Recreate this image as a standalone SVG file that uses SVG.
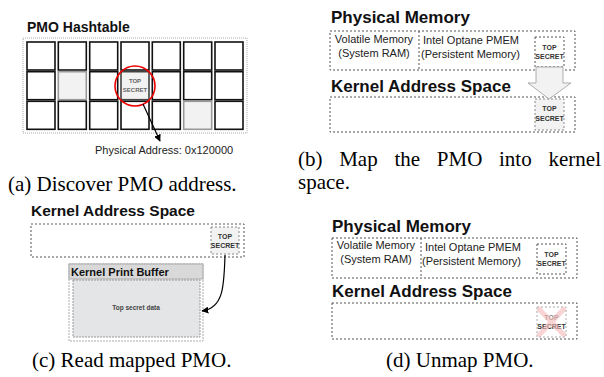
<svg xmlns="http://www.w3.org/2000/svg" width="604" height="377" viewBox="0 0 604 377">
<style>
.dot{fill:none;stroke:#555;stroke-width:1;stroke-dasharray:2 2}
.dotf{fill:#f2f2f2;stroke:#888;stroke-width:1;stroke-dasharray:2 2}
.cell{fill:#fff;stroke:#111;stroke-width:1.6}
.cellg{fill:#f2f2f2;stroke:#999;stroke-width:1.6}
.ttl{font-family:"Liberation Sans",Arial,sans-serif;font-weight:bold;fill:#111}
.ts{font-family:"Liberation Sans",Arial,sans-serif;font-weight:bold;font-size:7px;fill:#333;text-anchor:middle}
.mem{font-family:"Liberation Sans",Arial,sans-serif;font-size:11px;fill:#222}
.cap{font-family:"Liberation Serif","Times New Roman",serif;font-size:21px;fill:#000}
.conn{fill:none;stroke:#000;stroke-width:1.2}
</style>
<defs>
<marker id="ah" viewBox="0 0 10 10" refX="9" refY="5" markerWidth="7" markerHeight="7" orient="auto" markerUnits="userSpaceOnUse">
<path d="M0,0 L10,5 L0,10 z" fill="#000"/>
</marker>
</defs>

<!-- (a) PMO Hashtable -->
<g id="panel-a">
<text class="ttl" x="27" y="32" font-size="14">PMO Hashtable</text>
<rect x="23" y="38" width="224" height="95" fill="none" stroke="#aaa" stroke-width="1" stroke-dasharray="1 1"/>
<g id="hashtable-cells">
<rect class="cell" x="27" y="42" width="28" height="28"/>
<rect class="cell" x="58.3" y="42" width="28" height="28"/>
<rect class="cell" x="89.7" y="42" width="28" height="28"/>
<rect class="cell" x="121" y="42" width="28" height="28"/>
<rect class="cell" x="152.3" y="42" width="28" height="28"/>
<rect class="cell" x="183.7" y="42" width="28" height="28"/>
<rect class="cell" x="215" y="42" width="28" height="28"/>
<rect class="cell" x="27" y="71.7" width="28" height="28"/>
<rect class="cellg" x="58.3" y="71.7" width="28" height="28"/>
<rect class="cell" x="89.7" y="71.7" width="28" height="28"/>
<rect class="cell" x="121" y="71.7" width="28" height="28" style="fill:#f2f2f2;stroke:#444"/>
<rect class="cell" x="152.3" y="71.7" width="28" height="28"/>
<rect class="cell" x="183.7" y="71.7" width="28" height="28"/>
<rect class="cell" x="215" y="71.7" width="28" height="28"/>
<rect class="cell" x="27" y="101.3" width="28" height="28"/>
<rect class="cell" x="58.3" y="101.3" width="28" height="28"/>
<rect class="cell" x="89.7" y="101.3" width="28" height="28"/>
<rect class="cell" x="121" y="101.3" width="28" height="28"/>
<rect class="cell" x="152.3" y="101.3" width="28" height="28"/>
<rect class="cellg" x="183.7" y="101.3" width="28" height="28"/>
<rect class="cell" x="215" y="101.3" width="28" height="28"/>
</g>
<g id="a-secret">
<text class="ts" x="135" y="83" style="font-size:6px;fill:#666">TOP</text>
<text class="ts" x="135" y="92" style="font-size:6px;fill:#666">SECRET</text>
<circle cx="135" cy="86" r="20" fill="none" stroke="#e00" stroke-width="1.6"/>
</g>
<text id="phys-addr" class="mem" x="95" y="154">Physical Address: 0x120000</text>
<text class="cap" x="8" y="191">(a) Discover PMO address.</text>
</g>

<!-- (b) Map -->
<g id="panel-b">
<text class="ttl" x="331" y="23" font-size="17">Physical Memory</text>
<g id="b-phys">
<rect class="dot" x="330" y="31" width="245" height="39"/>
<line x1="419" y1="31" x2="419" y2="70" stroke="#555" stroke-dasharray="2 2"/>
<text class="mem" x="374" y="43" text-anchor="middle">Volatile Memory</text>
<text class="mem" x="374" y="57" text-anchor="middle">(System RAM)</text>
<text class="mem" x="423" y="44">Intel Optane PMEM</text>
<text class="mem" x="421" y="58">(Persistent Memory)</text>
<rect class="dot" x="535" y="37" width="29" height="30"/>
<text class="ts" x="549.5" y="50">TOP</text>
<text class="ts" x="549.5" y="59">SECRET</text>
</g>
<text class="ttl" x="331" y="92" font-size="17">Kernel Address Space</text>
<g id="b-kernel">
<rect class="dot" x="330" y="97" width="245" height="35"/>
<rect class="dotf" x="535" y="99" width="29" height="31"/>
<text class="ts" x="549.5" y="111">TOP</text>
<text class="ts" x="549.5" y="121">SECRET</text>
</g>
<text class="cap" x="298" y="166">(b)</text>
<text class="cap" x="339.2" y="166">Map</text>
<text class="cap" x="394.4" y="166">the</text>
<text class="cap" x="436.8" y="166">PMO</text>
<text class="cap" x="499" y="166">into</text>
<text class="cap" x="601" y="166" text-anchor="end">kernel</text>
<text class="cap" x="298" y="189">space.</text>
</g>

<!-- (c) Read -->
<g id="panel-c">
<text class="ttl" x="31" y="216" font-size="15.5">Kernel Address Space</text>
<g id="c-kernel">
<rect class="dot" x="31" y="224" width="213" height="33"/>
<rect class="dotf" x="211" y="227" width="28" height="27"/>
<text class="ts" x="225" y="239">TOP</text>
<text class="ts" x="225" y="248">SECRET</text>
</g>
<g id="c-printbuf">
<rect x="69" y="264" width="134" height="77" fill="#fff" stroke="#aaa" stroke-width="1" stroke-dasharray="2 1"/>
<rect x="69" y="264" width="134" height="15" fill="#d9d9d9" stroke="#aaa" stroke-width="1"/>
<text class="ttl" x="71" y="276" font-size="11">Kernel Print Buffer</text>
<rect x="73" y="280" width="127" height="57" fill="#e3e5e6" stroke="#999" stroke-width="1" stroke-dasharray="2 1"/>
<text class="ts" x="136" y="310" style="font-size:6.5px;fill:#444">Top secret data</text>
</g>
<text class="cap" x="32" y="367">(c) Read mapped PMO.</text>
</g>

<!-- (d) Unmap -->
<g id="panel-d">
<text class="ttl" x="332" y="232" font-size="17">Physical Memory</text>
<g id="d-phys">
<rect class="dot" x="332" y="238" width="245" height="40"/>
<line x1="421" y1="238" x2="421" y2="278" stroke="#555" stroke-dasharray="2 2"/>
<text class="mem" x="376" y="249" text-anchor="middle">Volatile Memory</text>
<text class="mem" x="376" y="263" text-anchor="middle">(System RAM)</text>
<text class="mem" x="425" y="251">Intel Optane PMEM</text>
<text class="mem" x="422" y="265">(Persistent Memory)</text>
<rect class="dot" x="537" y="244" width="29" height="30"/>
<text class="ts" x="551.5" y="257">TOP</text>
<text class="ts" x="551.5" y="266">SECRET</text>
</g>
<text class="ttl" x="332" y="297" font-size="17">Kernel Address Space</text>
<g id="d-kernel">
<rect class="dot" x="332" y="303" width="245" height="36"/>
<rect x="537" y="307" width="29" height="30" fill="none" stroke="#aaa" stroke-dasharray="2 2"/>
<text class="ts" x="551.5" y="320" style="fill:#888">TOP</text>
<text class="ts" x="551.5" y="329">SECRET</text>
<path d="M538,308 L565,336 M565,308 L538,336" stroke="#f4b8b8" stroke-width="5" stroke-opacity="0.6" fill="none"/>
</g>
<text class="cap" x="386" y="367">(d) Unmap PMO.</text>
</g>

<!-- connectors -->
<g id="connectors">
<line class="conn" x1="143" y1="104" x2="160" y2="141" marker-end="url(#ah)"/>
<polygon points="536,67 563,67 563,83 571,83 549,99 528,83 536,83" fill="#f2f2f2" stroke="#999" stroke-width="0.8"/>
<path class="conn" d="M225,255 C224,285 224,308 202,311" marker-end="url(#ah)"/>
</g>
</svg>
